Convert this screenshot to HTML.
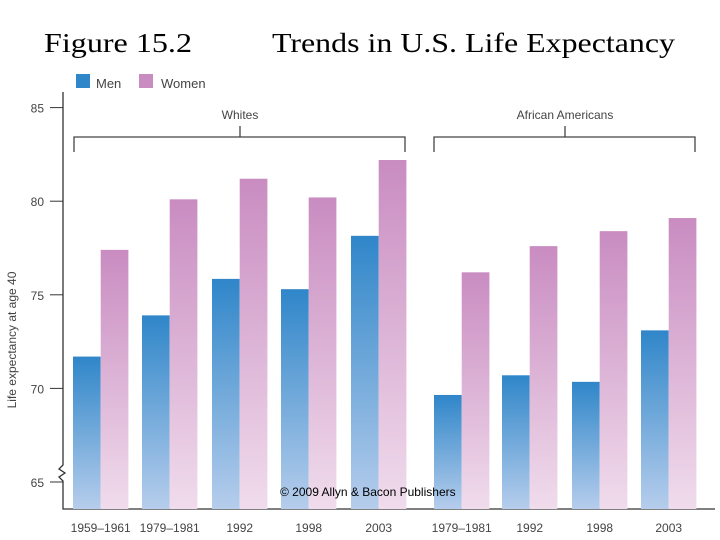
<!DOCTYPE html>
<html><head><meta charset="utf-8"><style>
body{margin:0;background:#fff;width:720px;height:540px;overflow:hidden}
svg{display:block}
</style></head><body>
<svg id="c" width="720" height="540" xmlns="http://www.w3.org/2000/svg" font-family="Liberation Sans, sans-serif">
<defs>
<linearGradient id="gm" x1="0" y1="0" x2="0" y2="1"><stop offset="0" stop-color="#2f86c9"/><stop offset="1" stop-color="#b6cdec"/></linearGradient>
<linearGradient id="gw" x1="0" y1="0" x2="0" y2="1"><stop offset="0" stop-color="#c98cc1"/><stop offset="1" stop-color="#f0dcec"/></linearGradient>
</defs>
<text x="44" y="52" font-family="Liberation Serif, serif" font-size="27" textLength="148" lengthAdjust="spacingAndGlyphs" fill="#000">Figure 15.2</text>
<text x="272" y="52" font-family="Liberation Serif, serif" font-size="27" textLength="403" lengthAdjust="spacingAndGlyphs" fill="#000">Trends in U.S. Life Expectancy</text>
<rect x="76" y="74" width="14" height="14" fill="#2f86c9"/>
<text x="96" y="88" font-size="13" fill="#444">Men</text>
<rect x="139" y="74" width="14" height="14" fill="#c98cc1"/>
<text x="161" y="88" font-size="13" fill="#444">Women</text>
<g id="axes"></g>
<g id="bars"></g>
<text x="280" y="496" font-size="12" fill="#000">© 2009 Allyn &amp; Bacon Publishers</text>
<text transform="translate(16,340) rotate(-90)" text-anchor="middle" font-size="12" fill="#444">Life expectancy at age 40</text>
</svg>
<script>
const categories=["1959–1961","1979–1981","1992","1998","2003","1979–1981","1992","1998","2003"];
const menValues=[71.7,73.9,75.85,75.3,78.15,69.65,70.7,70.35,73.1];
const womenValues=[77.4,80.1,81.2,80.2,82.2,76.2,77.6,78.4,79.1];
const yTicks=[65,70,75,80,85];
const NS="http://www.w3.org/2000/svg";
const base=509;
function y(v){return 482-(v-65)*18.72;}
const groupX=[73,142,212,281,351,434,502,572,641];
const bw=27.7;
function mk(tag,attrs,parent){const e=document.createElementNS(NS,tag);for(const k in attrs)e.setAttribute(k,attrs[k]);parent.appendChild(e);return e;}
const ax=document.getElementById('axes'),bars=document.getElementById('bars');
categories.forEach((c,i)=>{
 const x=groupX[i];
 const m=mk('rect',{x:x,y:y(menValues[i]),width:bw,height:base-y(menValues[i]),fill:'url(#gm)'},bars);
 
 
 const w=mk('rect',{x:x+bw,y:y(womenValues[i]),width:bw,height:base-y(womenValues[i]),fill:'url(#gw)'},bars);
 
 
 const t=mk('text',{x:x+bw,y:532,'text-anchor':'middle','font-size':12,fill:'#444'},ax);
 t.textContent=c;
 
 
});
yTicks.forEach(v=>{
 const l=mk('line',{x1:50,x2:63,y1:y(v),y2:y(v),stroke:'#333'},ax);
 
 
 const t=mk('text',{x:44,y:y(v)+5,'text-anchor':'end','font-size':12,fill:'#444'},ax);
 t.textContent=v;
 
 
});
const yl=mk('path',{d:'M63 92 V465 l-4 4 l6 4 l-6 4 l4 4 V509 H715',fill:'none',stroke:'#333','stroke-width':1.3},ax);


const b1=mk('path',{d:'M74 152 V137 H405 V152 M240 137 V126',fill:'none',stroke:'#444','stroke-width':1.3},ax);


const b2=mk('path',{d:'M434 152 V137 H695 V152 M565 137 V126',fill:'none',stroke:'#444','stroke-width':1.3},ax);


const g1=mk('text',{x:240,y:119,'text-anchor':'middle','font-size':12,fill:'#444'},ax);
g1.textContent='Whites';


const g2=mk('text',{x:565,y:119,'text-anchor':'middle','font-size':12,fill:'#444'},ax);
g2.textContent='African Americans';


</script>
</body></html>
